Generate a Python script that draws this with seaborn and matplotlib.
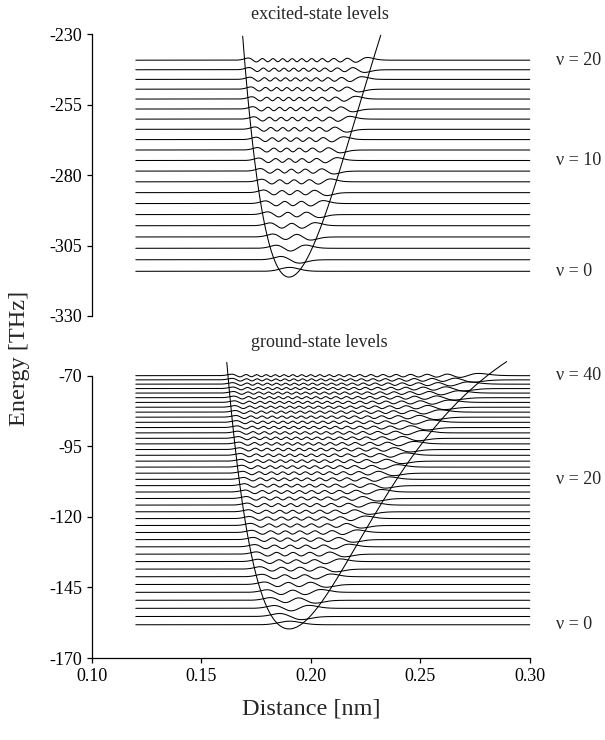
import numpy as np
import pandas as pd
import matplotlib.pyplot as plt
import seaborn as sns

# Morse-potential parameters (energy in THz, distance in nm)
STATES = ["excited-state levels", "ground-state levels"]
WELL_MIN = [-316.2, -159.7]
R_EQ = [0.190, 0.190]
WELL_DEPTH = [232.0, 119.0]
MORSE_A = [22.4, 22.4]
N_LEVELS = [21, 41]
LABELED = [[0, 10, 20], [0, 20, 40]]
Y_TICKS = [[-230, -255, -280, -305, -330], [-70, -95, -120, -145, -170]]
X_TICKS = [0.10, 0.15, 0.20, 0.25, 0.30]
KIN = 3.68e-5      # hbar^2 / 2 mu  in THz nm^2
PSI_SCALE = 0.12
LINE_X = (0.12, 0.30)
CURVE_TOP = [-230, -65]


def solve_morse(vmin, re, depth, a, n):
    x = np.linspace(0.11, 0.40, 2200)
    dx = x[1] - x[0]
    V = vmin + depth * (1 - np.exp(-a * (x - re))) ** 2
    off = np.full(len(x) - 1, -KIN / dx**2)
    H = np.diag(V + 2 * KIN / dx**2) + np.diag(off, 1) + np.diag(off, -1)
    E, vec = np.linalg.eigh(H)
    psi = vec[:, :n] / np.sqrt(dx)
    for k in range(n):
        first = np.argmax(np.abs(psi[:, k]) > 0.05 * np.abs(psi[:, k]).max())
        if psi[first, k] < 0:
            psi[:, k] *= -1
    return x, V, E[:n], psi


sns.set_style("ticks")
plt.rcParams.update({
    'font.family': ['Liberation Serif', 'DejaVu Serif'],
    'font.size': 13,
    'axes.unicode_minus': False,
    'axes.linewidth': 0.9,
    'xtick.major.width': 0.9,
    'ytick.major.width': 0.9,
    'xtick.color': 'black',
    'ytick.color': 'black',
    'axes.edgecolor': 'black',
})

fig = plt.figure(figsize=(6.05, 7.4), dpi=100)
ax_top = fig.add_axes([0.152, 0.573, 0.724, 0.3806])
ax_bot = fig.add_axes([0.152, 0.1108, 0.724, 0.3815])
axes = [ax_top, ax_bot]

for i, ax in enumerate(axes):
    x, V, E, psi = solve_morse(WELL_MIN[i], R_EQ[i], WELL_DEPTH[i], MORSE_A[i], N_LEVELS[i])
    keep = (x >= LINE_X[0]) & (x <= LINE_X[1])
    frames = []
    for v in range(N_LEVELS[i]):
        frames.append(pd.DataFrame({
            'x': x[keep],
            'y': E[v] + PSI_SCALE * psi[keep, v],
            'level': v,
        }))
    df = pd.concat(frames)
    sns.lineplot(data=df, x='x', y='y', units='level', estimator=None,
                 color='black', linewidth=0.75, ax=ax, clip_on=False)

    well = pd.DataFrame({'x': x, 'V': V})
    well = well[(well.V <= CURVE_TOP[i]) & (well.x <= LINE_X[1])]
    sns.lineplot(data=well, x='x', y='V', color='black', linewidth=0.75,
                 ax=ax, clip_on=False, sort=False)

    for v in LABELED[i]:
        ax.text(0.312, E[v], f"ν = {v}", va='center', ha='left', fontsize=13)

    ax.set_xlim(0.10, 0.30)
    ax.set_ylim(Y_TICKS[i][-1], Y_TICKS[i][0])
    ax.set_yticks(Y_TICKS[i])
    ax.set_xlabel('')
    ax.set_ylabel('')
    sns.despine(ax=ax)

ax_top.set_title(STATES[0], fontsize=13, x=0.52, pad=11)
ax_bot.set_title(STATES[1], fontsize=13, x=0.52, pad=21)

ax_top.spines['bottom'].set_visible(False)
ax_top.set_xticks([])

ax_bot.set_xticks(X_TICKS)
ax_bot.set_xticklabels([f"{t:.2f}" for t in X_TICKS])
ax_bot.set_xlabel('Distance [nm]', fontsize=17.5, labelpad=10)

fig.text(0.033, 0.516, 'Energy [THz]', rotation=90, va='center', ha='center', fontsize=17.5)

fig.savefig('out.png', dpi=100)
